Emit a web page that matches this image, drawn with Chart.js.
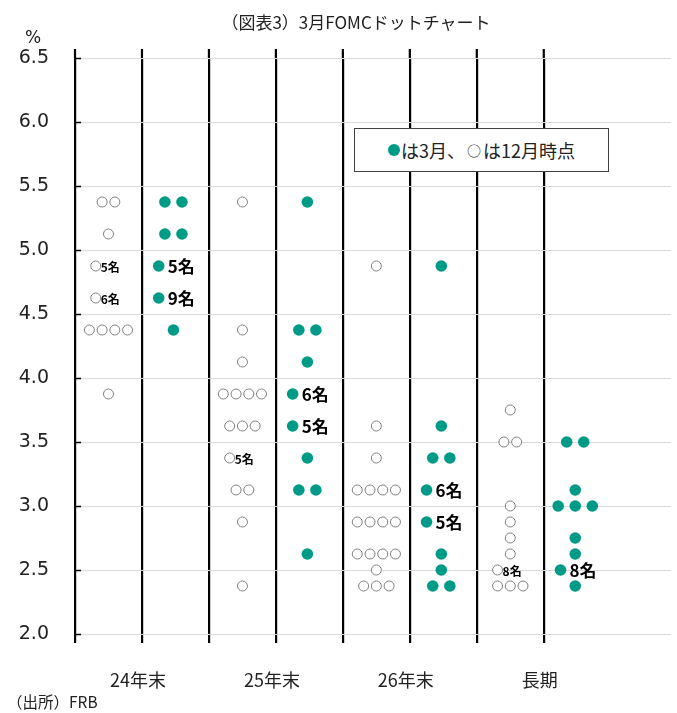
<!DOCTYPE html>
<html>
<head>
<meta charset="utf-8">
<script src="https://cdn.jsdelivr.net/npm/chart.js@4.4.1/dist/chart.umd.min.js"></script>
<style>
    body { margin: 0; background: #fff; }
    #wrap { position: relative; width: 677px; height: 713px; font-family: "Noto Sans CJK JP", sans-serif; color: #222; }
    #dotChart { position: absolute; left: 0; top: 0; }
    .txt { position: absolute; white-space: nowrap; }
    #title { left: 0; width: 712px; top: 12px; text-align: center; font-size: 17px; line-height: 20px; }
    #unit { left: 25px; top: 27px; font-family: "DejaVu Sans", sans-serif; font-size: 17px; line-height: 20px; }
    #source { left: 7px; top: 692px; font-size: 15.5px; line-height: 18px; }
    #legendBox {
        position: absolute; left: 354px; top: 128px; width: 255px; height: 44px; box-sizing: border-box;
        border: 1.5px solid #404040; background: #fff; display: flex; align-items: center; justify-content: center;
        font-size: 18px; color: #222;
    }
    #legendBox .dot { display: inline-block; width: 12px; height: 12px; border-radius: 50%; background: #009B87; margin-right: 1px; }
    #legendBox .ring { font-size: 14px; margin: 0 2px; }
</style>
</head>
<body>
<div id="wrap">
    <canvas id="dotChart" width="677" height="713"></canvas>
    <div class="txt" id="title">（図表3）3月FOMCドットチャート</div>
    <div class="txt" id="unit">%</div>
    <div id="legendBox"><span class="dot"></span>は3月、<span class="ring">○</span>は12月時点</div>
    <div class="txt" id="source">（出所）FRB</div>
</div>
<script>
// 予測時期
const categories = ["24年末", "25年末", "26年末", "長期"];

// [政策金利の水準, 人数]  12月時点（白丸）
const dec24 = [[5.375, 2], [5.125, 1], [4.875, 5], [4.625, 6], [4.375, 4], [3.875, 1]];
const dec25 = [[5.375, 1], [4.375, 1], [4.125, 1], [3.875, 4], [3.625, 3], [3.375, 5], [3.125, 2], [2.875, 1], [2.375, 1]];
const dec26 = [[4.875, 1], [3.625, 1], [3.375, 1], [3.125, 4], [2.875, 4], [2.625, 4], [2.5, 1], [2.375, 3]];
const decLR = [[3.75, 1], [3.5, 2], [3.0, 1], [2.875, 1], [2.75, 1], [2.625, 1], [2.5, 8], [2.375, 3]];

// 3月時点（黒丸）
const mar24 = [[5.375, 2], [5.125, 2], [4.875, 5], [4.625, 9], [4.375, 1]];
const mar25 = [[5.375, 1], [4.375, 2], [4.125, 1], [3.875, 6], [3.625, 5], [3.375, 1], [3.125, 2], [2.625, 1]];
const mar26 = [[4.875, 1], [3.625, 1], [3.375, 2], [3.125, 6], [2.875, 5], [2.625, 1], [2.5, 1], [2.375, 2]];
const marLR = [[3.5, 2], [3.125, 1], [3.0, 3], [2.75, 1], [2.625, 1], [2.5, 8], [2.375, 1]];

const yTicks = [2.0, 2.5, 3.0, 3.5, 4.0, 4.5, 5.0, 5.5, 6.0, 6.5];

const TEAL = "#009B87";

// 5名以上は1つの点＋「n名」、それ以外は横に並べる
function spreadDots(levels, center, gap, labelShift) {
    const pts = [];
    levels.forEach(([v, n]) => {
        if (n >= 5) {
            pts.push({ x: center + labelShift, y: v, n: n });
        } else {
            for (let j = 0; j < n; j++) {
                pts.push({ x: center + (j - (n - 1) / 2) * gap, y: v });
            }
        }
    });
    return pts;
}

const decPoints = [dec24, dec25, dec26, decLR].flatMap((lv, i) => spreadDots(lv, 0.5 + 2 * i, 0.19, -0.19));
const marPoints = [mar24, mar25, mar26, marLR].flatMap((lv, i) => spreadDots(lv, 1.47 + 2 * i, 0.255, -0.22));

function tickName(value) {
    const idx = categories.findIndex((c, i) => 1 + 2 * i === value);
    return idx >= 0 ? categories[idx] : "";
}

function lineColor(ctx) {
    return ctx.tick && ctx.tick.value <= 8 ? "#000" : "rgba(0,0,0,0)";
}

// 人数ラベル
const countLabels = {
    id: "countLabels",
    afterDatasetsDraw(chart) {
        const ctx = chart.ctx;
        chart.data.datasets.forEach((ds, di) => {
            const meta = chart.getDatasetMeta(di);
            meta.data.forEach((pt, i) => {
                const n = ds.data[i].n;
                if (!n) return;
                ctx.save();
                ctx.font = ds.labelFont;
                ctx.fillStyle = "#000";
                ctx.textBaseline = "middle";
                ctx.fillText(n + "名", pt.x + ds.labelGap, pt.y + 1);
                ctx.restore();
            });
        });
    }
};

// 縦軸の内向き目盛りと、区切り線の上側のはみ出し
const axisMarks = {
    id: "axisMarks",
    afterDraw(chart) {
        const { x, y } = chart.scales;
        const area = chart.chartArea;
        const ctx = chart.ctx;
        ctx.save();
        ctx.strokeStyle = "#000";
        ctx.lineWidth = 1.5;
        y.ticks.forEach(t => {
            const py = Math.round(y.getPixelForValue(t.value)) + 0.5;
            ctx.beginPath();
            ctx.moveTo(area.left, py);
            ctx.lineTo(area.left + 6, py);
            ctx.stroke();
        });
        ctx.lineWidth = 2.2;
        x.ticks.forEach(t => {
            if (t.value > 8) return;
            const px = x.getPixelForValue(t.value);
            ctx.beginPath();
            ctx.moveTo(px, area.top - 9);
            ctx.lineTo(px, area.top);
            ctx.stroke();
        });
        ctx.restore();
    }
};

new Chart(document.getElementById("dotChart"), {
    type: "scatter",
    data: {
        datasets: [
            {
                label: "12月時点",
                data: decPoints,
                pointRadius: 5,
                pointHoverRadius: 5,
                borderColor: "#808080",
                borderWidth: 1,
                backgroundColor: "#fff",
                labelFont: "bold 12px 'Noto Sans CJK JP'",
                labelGap: 5
            },
            {
                label: "3月",
                data: marPoints,
                pointRadius: 5.8,
                pointHoverRadius: 5.8,
                borderWidth: 0,
                backgroundColor: TEAL,
                labelFont: "bold 17px 'Noto Sans CJK JP'",
                labelGap: 9
            }
        ]
    },
    options: {
        responsive: false,
        animation: false,
        layout: { padding: { top: 58, right: 1, left: 0, bottom: 0 } },
        plugins: {
            legend: { display: false },
            tooltip: { enabled: false }
        },
        scales: {
            x: {
                type: "linear",
                min: 0,
                max: 8.9,
                z: 1,
                border: { display: false },
                grid: { color: lineColor, lineWidth: 2.2, drawTicks: true, tickLength: 9 },
                ticks: {
                    stepSize: 1,
                    autoSkip: false,
                    maxRotation: 0,
                    padding: 0,
                    labelOffset: -4,
                    color: "#222",
                    font: { family: "Noto Sans CJK JP", size: 18, lineHeight: "74px" },
                    callback: v => tickName(v)
                },
                afterFit: s => { s.height = 79; }
            },
            y: {
                min: 2,
                max: 6.5,
                border: { display: false },
                grid: { color: "#d9d9d9", lineWidth: 1, drawTicks: false },
                afterBuildTicks: s => { s.ticks = yTicks.map(v => ({ value: v })); },
                ticks: {
                    padding: 26,
                    color: "#222",
                    font: { family: "DejaVu Sans", size: 19 },
                    callback: v => v.toFixed(1)
                },
                afterFit: s => { s.width = 75; }
            }
        }
    },
    plugins: [countLabels, axisMarks]
});
</script>
</body>
</html>
